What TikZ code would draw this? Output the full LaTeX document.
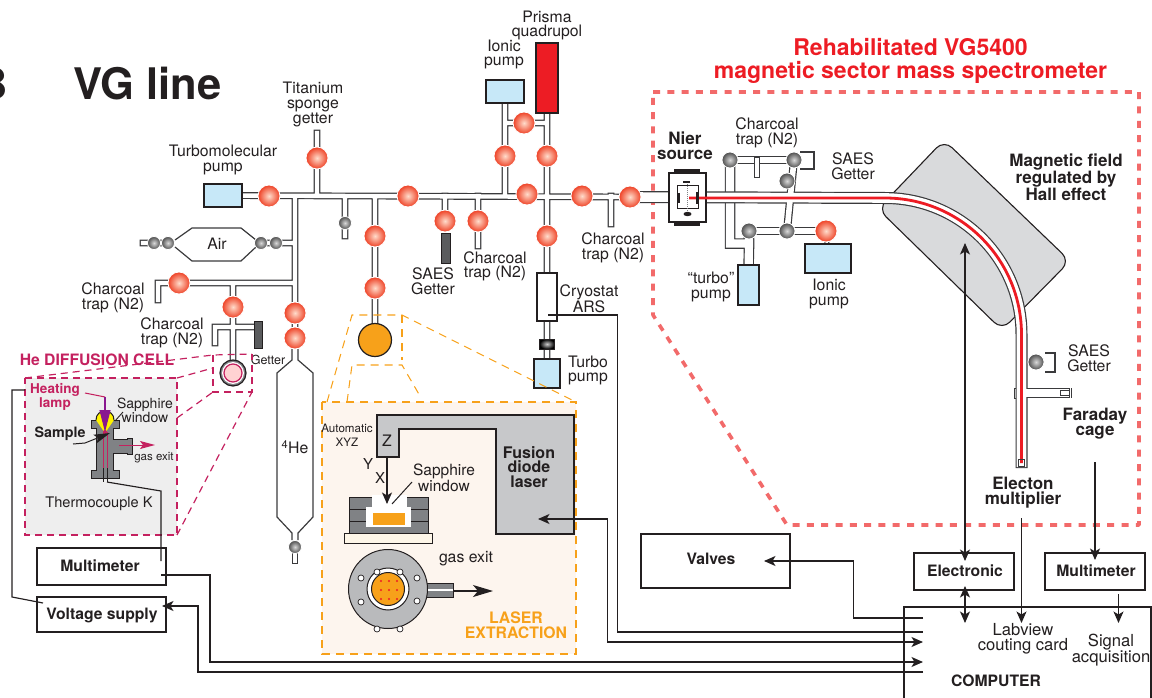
\documentclass[tikz,border=0pt]{standalone}
\usepackage{fontspec}
\setmainfont{TeX Gyre Heros}
\usetikzlibrary{arrows.meta,calc}
\pgfdeclarelayer{bgl}
\pgfsetlayers{bgl,main}
\definecolor{ink}{HTML}{231F20}
\definecolor{pipec}{HTML}{3A3A3C}
\definecolor{pumpb}{HTML}{C7E8F8}
\definecolor{redd}{HTML}{ED1C24}
\definecolor{dashr}{HTML}{F26A6A}
\definecolor{mag}{HTML}{C4215F}
\definecolor{oran}{HTML}{F7A11A}
\definecolor{lasg}{HTML}{C7C8CA}
\definecolor{darkg}{HTML}{808285}
\definecolor{panelg}{HTML}{EEEEEE}
\definecolor{panelo}{HTML}{FDF5EE}
\definecolor{magnet}{HTML}{D9DADC}
\definecolor{vin}{HTML}{FFDCCB}
\definecolor{vout}{HTML}{EE4024}
\tikzset{
  lab/.style={align=center,inner sep=0pt,text=ink,font=\fontsize{15.8}{14.6}\selectfont},
  blab/.style={align=center,inner sep=0pt,text=ink,font=\fontsize{17}{15}\selectfont\bfseries},
  bsm/.style={align=center,inner sep=0pt,text=ink,font=\fontsize{15.7}{15}\selectfont\bfseries},
  rv/.style={circle,inner sep=0pt,minimum size=22pt,inner color=vin,outer color=vout,draw=white,line width=.8pt},
  gv/.style={circle,inner sep=0pt,minimum size=#1,inner color=white!85!black,outer color=black!70,draw=white,line width=.8pt},
  gv/.default=16pt,
  boxn/.style={draw=ink,line width=1.2pt,fill=white,inner sep=0pt},
  pump/.style={boxn,fill=pumpb},
  wire/.style={draw=ink,line width=1.15pt},
  arr/.style={wire,-{Stealth[length=11.5pt,width=10pt,inset=3pt]}},
  darr/.style={wire,{Stealth[length=11.5pt,width=10pt,inset=3pt]}-{Stealth[length=11.5pt,width=10pt,inset=3pt]}},
  po/.style={draw=pipec,line width=#1,line cap=rect,line join=miter},
  pi/.style={draw=white,line width=#1,line cap=rect,line join=miter},
  magdash/.style={draw=mag,line width=1.2pt,dash pattern=on 7pt off 5pt},
  oradash/.style={draw=oran,line width=1.05pt,dash pattern=on 8pt off 6pt},
}
\newcommand{\pipegroup}[2]{%
  \draw[po=#1pt] #2;
  \draw[pi=#1pt-2.4pt] #2;}
\begin{document}
\begin{tikzpicture}[x=1pt,y=-1pt]
\useasboundingbox (0,0) rectangle (1152,698);
% ---------- titles
\node[anchor=east,inner sep=0pt,text=ink,font=\fontsize{43.5}{42}\selectfont\bfseries] (tb) at (8,84) {B};
\node[anchor=west,inner sep=0pt,text=ink,font=\fontsize{43.5}{42}\selectfont\bfseries] (tvg) at (73,84) {VG line};
\node[align=center,inner sep=0pt,text=redd,font=\fontsize{23}{23}\selectfont\bfseries] (tr) at (910.5,60.5) {Rehabilitated VG5400\\magnetic sector mass spectrometer};
% ---------- valves
\foreach \n/\x/\y in {v1/269/196,vTi/317/158,v2/408/196,vL1/375/236,vL2/375/288,vS/445/221,vC/478/221,vTop/527/194,vIa/505/156,vIb/547/156,vIc/524/123,vCr/547/236,v3/582/196,v4/630/197,vH1/295/313,vH2/295/338,vC1/179/283,vC2/233/307,vIon/826/231}
  \node[rv] (\n) at (\x,\y) {};
\foreach \n/\x/\y in {vN1/730/160,vN2/794/160,vN3/787/181,vN4/749/231,vN5/787/231,vSA/1036/362}
  \node[gv] (\n) at (\x,\y) {};
\foreach \n/\x/\y in {vA1/154/243,vA2/168/243,vA3/261/243,vA4/276/243,vSm/345/223,vHb/295/547}
  \node[gv=13pt] (\n) at (\x,\y) {};
% ---------- pumps and boxes
\node[pump,minimum width=38pt,minimum height=23pt] (tmp) at (223,195.5) {};
\node[pump,minimum width=38pt,minimum height=23pt] (ion) at (505,91.5) {};
\node[boxn,fill=redd,minimum width=22pt,minimum height=70pt] (pri) at (547,78) {};
\node[boxn,minimum width=20pt,minimum height=48pt] (cry) at (547,297) {};
\node[pump,minimum width=26pt,minimum height=29pt] (tp2) at (547,373.5) {};
\node[pump,minimum width=21pt,minimum height=40pt] (tp3) at (748.5,285) {};
\node[pump,minimum width=46pt,minimum height=29pt] (ip2) at (828,258.5) {};
\node[draw=ink,line width=1pt,minimum width=15pt,minimum height=10pt,inner sep=0pt,inner color=white!80!black,outer color=black] (vBk) at (547,344) {};
\node[draw=ink,line width=1.2pt,fill=oran,circle,minimum size=33pt,inner sep=0pt] (oc) at (375,340) {};
\node[draw=ink,line width=1pt,fill=darkg!70!black,minimum width=9pt,minimum height=30pt,inner sep=0pt] (gS) at (445.5,248) {};
\node[draw=ink,line width=1pt,fill=darkg!70!black,minimum width=8pt,minimum height=27pt,inner sep=0pt] (gG) at (258,334.5) {};
\node[boxn,minimum width=37pt,minimum height=49pt] (nier) at (687.5,197.5) {};
\node[boxn,minimum width=129pt,minimum height=37pt] (mm1) at (101.5,566.5) {};
\node[boxn,minimum width=129pt,minimum height=35pt] (vs) at (101.5,614.5) {};
\node[boxn,minimum width=149pt,minimum height=54pt] (val) at (715.5,561) {};
\node[boxn,minimum width=100pt,minimum height=37pt] (ele) at (964,571.5) {};
\node[boxn,minimum width=100pt,minimum height=37pt] (mm2) at (1095,571.5) {};
\node[boxn,minimum width=247pt,minimum height=113pt] (comp) at (1027.5,663.5) {};
\node[draw=ink,line width=1.2pt,circle,minimum size=26pt,inner sep=0pt,fill=darkg] (cellO) at (233,373) {};
\node[draw=white,line width=.8pt,circle,minimum size=21pt,inner sep=0pt,fill=white] (cellW) at (233,373) {};
\node[draw=mag,line width=1.2pt,circle,minimum size=18pt,inner sep=0pt,fill=pink!70!white] (cellI) at (233,373) {};
% ---------- labels
\node[lab] (l1) at (313,104.5) {Titanium\\sponge\\getter};
\node[lab] (l2) at (223,160) {Turbomolecular\\pump};
\node[lab] (l3) at (217,243.5) {Air};
\node[lab] (l4) at (113,298) {Charcoal\\trap (N2)};
\node[lab] (l5) at (172,333) {Charcoal\\trap (N2)};
\node[lab,font=\fontsize{12.5}{13}\selectfont] (l6) at (268,360) {Getter};
\node[lab,text=mag,font=\fontsize{15.7}{15}\selectfont\bfseries] (l7) at (97,360) {He DIFFUSION CELL};
\node[lab,text=mag,font=\fontsize{13.5}{14}\selectfont\bfseries] (l8) at (55,397) {Heating\\lamp};
\node[lab,font=\fontsize{14}{14.5}\selectfont] (l9) at (145,410.5) {Sapphire\\window};
\node[bsm,font=\fontsize{14.3}{14}\selectfont\bfseries] (l10) at (60,434) {Sample};
\node[lab,font=\fontsize{11.5}{11}\selectfont] (l11) at (154,458) {gas exit};
\node[lab,font=\fontsize{14.6}{14}\selectfont] (l12) at (99,504) {Thermocouple K};
\node[bsm] (l13) at (100,566) {Multimeter};
\node[bsm] (l14) at (102,615) {Voltage supply};
\node[lab] (l15) at (295,447) {\textsuperscript{4}He};
\node[lab] (l16) at (433,281.5) {SAES\\Getter};
\node[lab] (l17) at (495,266.5) {Charcoal\\trap (N2)};
\node[lab] (l18) at (613,248) {Charcoal\\trap (N2)};
\node[lab] (l19) at (589,299) {Cryostat\\ARS};
\node[lab] (l20) at (588,370.5) {Turbo\\pump};
\node[lab] (l21) at (547,25.5) {Prisma\\quadrupol};
\node[lab] (l22) at (504,54.5) {Ionic\\pump};
\node[lab] (l23) at (767,133) {Charcoal\\trap (N2)};
\node[lab] (l24) at (853,166) {SAES\\Getter};
\node[lab] (l25) at (711,287) {“turbo”\\pump};
\node[lab] (l26) at (829,294) {Ionic\\pump};
\node[blab] (l27) at (685,146) {Nier\\source};
\node[blab] (l28) at (1066,177.5) {Magnetic field\\regulated by\\Hall effect};
\node[lab] (l29) at (1089,358.5) {SAES\\Getter};
\node[blab] (l30) at (1095,424) {Faraday\\cage};
\node[blab] (l31) at (1023,493) {Electon\\multiplier};
\node[bsm] (l32) at (711,559) {Valves};
\node[bsm] (l33) at (965,571) {Electronic};
\node[bsm] (l34) at (1096,571) {Multimeter};
\node[lab,font=\fontsize{16.6}{14.6}\selectfont] (l35) at (1023,639) {Labview\\couting card};
\node[lab,font=\fontsize{16.6}{14.6}\selectfont] (l36) at (1111,650) {Signal\\acquisition};
\node[bsm] (l37) at (996,681) {COMPUTER};
% ---------- background layer: panels, tubes
\begin{pgfonlayer}{bgl}
% red frame
\draw[dashr,line width=3.6pt,dash pattern=on 7pt off 7.3pt,line join=round] (653,92) -- (1139,92) -- (1139,525) -- (787,525) -- (653,315) -- cycle;
% He panel
\fill[panelg] (25,378) rectangle (177,535);
% laser panel
\fill[panelo] (322,402) rectangle (576,654);
% pipes, left part
\coordinate (m) at (0,196);
\coordinate (cap1) at (317,133);
\coordinate (capSm) at (345,236);
\coordinate (capA) at (143,243);
\coordinate (capT1) at (158,300);
\coordinate (capT2) at (215,343);
\coordinate (capT3) at (215,327);
\coordinate (capG) at (255,327);
\coordinate (capC) at (478,246);
\coordinate (capD) at (611,224);
\pipegroup{6.8}{
  (tmp.center) -- (v4.center)
  (cap1) -- (vTi.center) -- (vTi.center |- m)
  (vH1.center |- m) -- (vH1.center) -- (vH2.center)
  (vSm.center |- m) -- (capSm)
  (vL1.center |- m) -- (vL1.center) -- (vL2.center) -- (oc.center)
  (vS.center |- m) -- (vS.center)
  (capC) -- (capC |- m)
  (capD) -- (capD |- m)
  (capA) -- (vA2.center)
  (vA3.center) -- (vA4.center) -- (vH1.center |- vA4.center)
  (capT1) -- (capT1 |- vC1.center) -- (vC1.center) -- (vH1.center |- vC1.center)
  (vC2.center |- vC1.center) -- (vC2.center) -- (cellO.center)
  (capT2) -- (capT3) -- (capG)
  (ion.center) -- (vIa.center) -- (vIa.center |- m)
  (pri.center) -- (vIb.center) -- (vCr.center) -- (cry.center)
  (vIa.center |- vIc.center) -- (vIb.center |- vIc.center)
  (cry.center) -- (vBk.center) -- (tp2.center)
}
% He bulb
\draw[line width=1.2pt,draw=pipec] (292,349) -- (292,360) -- (277,373) -- (277,517) -- (292,533) -- (292,540)
  (298,349) -- (298,360) -- (313,373) -- (313,517) -- (298,533) -- (298,540);
\coordinate (capHb) at (295,561);
\pipegroup{6.8}{(vHb.center) -- (capHb)}
% Air hexagon
\draw[line width=1.2pt,draw=pipec] (175,240) -- (192,228) -- (241,228) -- (256,240) (175,247) -- (192,261) -- (241,261) -- (256,247);
% Nier section
\coordinate (capN) at (757,175);
\pipegroup{10.5}{(vN1.center) -- (730,243.5) -- (749,243.5) (vN4.center) -- (tp3.center)}
\pipegroup{7.5}{(vN4.center) -- (vIon.center) (vN1.center) -- (vN2.center)}
\pipegroup{5}{(vIon.center) -- (ip2.center)}
\pipegroup{5.5}{(capN) -- (757,160)}
\draw[line width=1.2pt,draw=pipec,fill=white] (800,152) -- (814,152) -- (814,169) -- (800,169);
% magnet
\draw[draw=ink,line width=1.1pt,fill=magnet,rounded corners=11pt] (944,140) -- (1070,261) -- (1002,330) -- (878,209) -- cycle;
% main analyser tube
\coordinate (tEnd) at (1021.5,468);
\coordinate (tA) at (885,198);
\coordinate (tB) at (1021.5,334.5);
\coordinate (cFa) at (1070,393);
\draw[line width=8pt,draw=pipec,line cap=rect] (vN2.center) -- (vN5.center);
\draw[po=12pt,line cap=butt] (v4.center) -- (tA) .. controls (960.4,198) and (1021.5,259.1) .. (tB) -- (tEnd);
\draw[po=10.5pt,line cap=butt] (1021.5,393) -- (cFa);
\draw[line width=5.6pt,draw=white] (vN2.center) -- (vN5.center);
\draw[pi=9.6pt,line cap=butt] (v4.center) -- (tA) .. controls (960.4,198) and (1021.5,259.1) .. (tB) -- ($(tEnd)+(0,-1)$);
\draw[pi=8.2pt,line cap=butt] (1021.5,393) -- (1069,393);
\draw[line width=1pt,draw=pipec] (1071,388) -- (1071,398);
\draw[line width=.9pt,draw=pipec] (1069,390.5) -- (1060,390.5) -- (1060,395.5) -- (1069,395.5);
\draw[line width=.9pt,draw=pipec] (1015.5,388) -- (1014.5,388) -- (1014.5,398) -- (1015.5,398);
\end{pgfonlayer}
% red beam
\coordinate (bS) at (689,198);
\draw[draw=redd,line width=2.8pt] (bS) -- (tA) .. controls (960.4,198) and (1021.5,259.1) .. (tB) -- (1021.5,463);
\draw[draw=pipec,line width=.8pt] (1018.5,459) rectangle (1024.5,466);
% getter stub at SAES (right)
\draw[line width=1.1pt,draw=pipec,fill=white] (1045,353) -- (1055,353) -- (1055,372) -- (1045,372);
% Nier details
\draw[line width=1pt,draw=ink] (677,186) rectangle (698,209);
\fill[ink] (674,169) rectangle (700,173);
\fill[ink] (674,222) rectangle (700,226);
\draw[line width=1pt,draw=darkg,densely dotted] (687,182) -- (687,212);
\draw[line width=1.2pt,draw=ink] (679,193) -- (679,203);
\draw[line width=1.2pt,draw=ink] (697,192) -- (697,204);
\draw[line width=1.2pt,draw=ink] (683,182) -- (690,182);
\fill[ink] (687.5,214) ellipse[x radius=4pt,y radius=2.2pt];
% ---------- He cell
\draw[magdash] (25,378) -- (213,355) -- (252,354);
\draw[magdash] (177,378) -- (213,368);
\draw[magdash] (177,418) -- (213,392);
\draw[magdash] (177,535) -- (252,392);
\draw[magdash] (213,355) -- (213,392) -- (252,392) -- (252,354);
\draw[magdash] (25,378) -- (177,378) -- (177,535) -- (25,535) -- cycle;
\draw[draw=ink,line width=1pt,fill=darkg]
  (91,420) -- (119,420) -- (119,428) -- (113,428) -- (113,439) -- (127,439) -- (127,438) -- (132,438) -- (132,454) -- (127,454) -- (127,453) -- (113,453) -- (113,470) -- (119,470) -- (119,478) -- (91,478) -- (91,470) -- (96,470) -- (96,428) -- (91,428) -- cycle;
\fill[yellow] (96,420) .. controls (96,408) and (114,408) .. (114,420) -- (105,433) -- cycle;
\draw[draw=ink,line width=1pt] (96,420) .. controls (96,408) and (114,408) .. (114,420);
\draw[draw=mag,line width=.8pt] (103,432) -- (103,468) (107,432) -- (107,468);
\draw[draw=ink,line width=.9pt] (103,468) -- (103,482) (107,468) -- (107,482);
\fill[mag] (105,432) circle[radius=2pt];
\coordinate (lampA) at (85,393);
\coordinate (lampB) at (105,397);
\coordinate (lampC) at (105,432);
\draw[draw=mag,line width=1pt] (lampA) -- (lampB);
\draw[draw=mag!70!blue,line width=1.1pt,-{Stealth[length=22pt,width=11pt,inset=0pt]}] (lampB) -- (lampC);
\draw[draw=ink,line width=.9pt] (115,421) -- (123,412);
\draw[draw=ink,line width=1pt,-{Stealth[length=16pt,width=9pt,inset=3pt]}] (73,444) -- (85,443) -- (110,433);
\draw[draw=mag,line width=1pt,-{Stealth[length=15pt,width=8pt,inset=3pt]}] (119,445) -- (155,445);
% thermocouple wire
\draw[wire] (107,482) -- (161,491) -- (161,561);
% lamp to supply
\draw[wire] (25,390) -- (12,390) -- (12,597) -- (43,603);
% ---------- Laser panel
\draw[oradash] (322,402) rectangle (576,654);
\draw[oradash] (327,402) -- (352,315) -- (402,315) -- (576,402);
\draw[oradash] (402,315) -- (402,360);
\draw[oradash] (347,402) -- (352,365) -- (402,365) -- (420,396);
\draw[draw=ink,line width=1.1pt,fill=lasg] (377,415) -- (574,415) -- (574,534) -- (496,534) -- (496,429) -- (399,429) -- (399,457) -- (377,457) -- cycle;
\node[lab] (lz) at (387,441) {Z};
\node[lab,font=\fontsize{11.6}{14.5}\selectfont] (la) at (347,435.5) {Automatic\\XYZ};
\node[lab,font=\fontsize{15}{15}\selectfont] (ly) at (368,464) {Y};
\node[lab,font=\fontsize{15}{15}\selectfont] (lx) at (380,478) {X};
\node[lab,font=\fontsize{15.5}{14.2}\selectfont] (lsw) at (444,478) {Sapphire\\window};
\node[blab,font=\fontsize{16}{14.5}\selectfont\bfseries] (lf) at (529,467) {Fusion\\diode\\laser};
% chamber
\draw[draw=ink,line width=1pt,fill=darkg] (349,497) rectangle (428,533);
\draw[draw=ink,line width=1pt] (349,509) -- (428,509) (349,521) -- (428,521);
\fill[white] (372,495) rectangle (407,507);
\fill[white] (366,507) rectangle (411,527);
\fill[oran] (373,513) rectangle (405,525);
\draw[draw=ink,line width=.9pt,fill=white!90!oran] (344,533) rectangle (432,543);
\draw[draw=ink,line width=1pt] (412,482) -- (392,504);
\coordinate (zb) at (387,457);
\coordinate (zt) at (387,504);
\draw[arr] (zb) -- (zt);
% flange
\fill[darkg] (425,583) rectangle (453,597);
\draw[draw=ink,line width=1pt] (425,583) -- (453,583) -- (453,597) -- (425,597);
\node[draw=ink,line width=1pt,circle,minimum size=79pt,inner sep=0pt,fill=lasg!80!darkg] (fl) at (388,589) {};
\draw[draw=white,line width=2pt] (428,590) -- (453,590);
\node[circle,minimum size=42pt,inner sep=0pt,draw=ink,line width=1pt,fill=white] (flw) at (388,589) {};
\node[circle,minimum size=33pt,inner sep=0pt,draw=ink,line width=1pt,fill=oran] (flo) at (388,589) {};
\foreach \x in {381,389,397} \foreach \y in {581,590,599} \fill[redd] (\x,\y) circle[radius=1.1pt];
\foreach \x/\y in {361/578,417/578,361/602,417/601,377/572,400/572,377/629,400/629}
  \draw[draw=ink,line width=.7pt,fill=white] (\x,\y) circle[radius=3pt];
\coordinate (gx1) at (453,591);
\coordinate (gx2) at (493,591);
\draw[wire,-{Stealth[length=20pt,width=12pt,inset=5pt]}] (gx1) -- (gx2);
\node[lab,font=\fontsize{15.8}{15}\selectfont] (lg) at (466,559) {gas exit};
\node[lab,text=oran,font=\fontsize{15.8}{14.5}\selectfont\bfseries] (le) at (516,625) {LASER\\EXTRACTION};
% ---------- wires
\coordinate (c1) at (923,618);
\coordinate (c2) at (923,632);
\coordinate (c3) at (923,642);
\coordinate (c4) at (923,662);
\coordinate (c5) at (923,672);
\coordinate (cryS) at (548,315);
\coordinate (mmS) at (161,575);
\coordinate (lasE) at (538,519);
\coordinate (vsE) at (162,606);
\coordinate (valE) at (764,561);
\draw[arr] (c1) -- (853.5,618) -- (853.5,561) -- (valE);
\draw[wire] (cryS) -- (617.5,315) -- (617.5,632) -- (c2);
\draw[darr] (lasE) -- (607.5,519) -- (607.5,642) -- (c3);
\draw[arr] (mmS) -- (210,575) -- (210,662) -- (c4);
\draw[arr] (c5) -- (198,672) -- (198,606) -- (vsE);
\coordinate (eT) at (965,243);
\coordinate (eB) at (965,561);
\coordinate (eC) at (965,586);
\coordinate (eD) at (965,623);
\draw[darr] (eT) -- (eB);
\draw[darr] (eC) -- (eD);
\coordinate (lvT) at (1021.5,518);
\coordinate (lvB) at (1021.5,623);
\draw[arr] (lvT) -- (lvB);
\coordinate (faT) at (1095,462);
\coordinate (faB) at (1095,560);
\draw[arr] (faT) -- (faB);
\coordinate (mmB) at (1118.5,594);
\coordinate (siT) at (1118.5,623);
\draw[arr] (mmB) -- (siT);
\end{tikzpicture}
\end{document}
